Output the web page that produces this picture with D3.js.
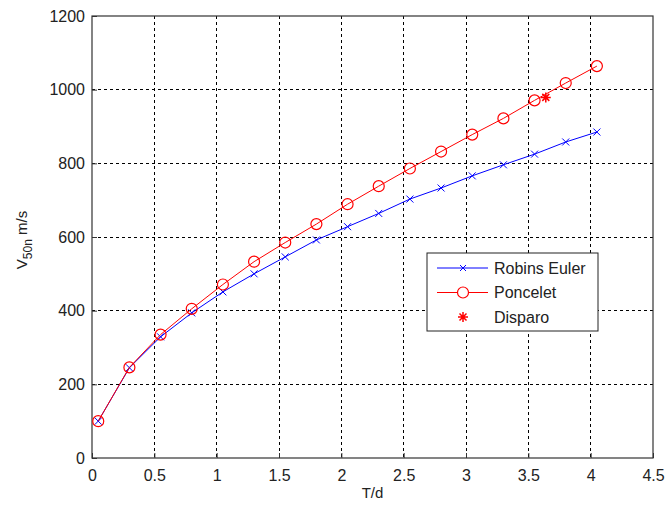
<!DOCTYPE html>
<html>
<head>
<meta charset="utf-8">
<script src="https://cdn.jsdelivr.net/npm/d3@7"></script>
<style>
  body { margin: 0; background: #fff; }
  svg text { font-family: "Liberation Sans", Arial, sans-serif; fill: #222; }
</style>
</head>
<body>
<svg id="chart" width="665" height="505"></svg>
<script>
// data
const tdValues = [0.05, 0.3, 0.55, 0.8, 1.05, 1.3, 1.55, 1.8, 2.05, 2.3, 2.55, 2.8, 3.05, 3.3, 3.55, 3.8, 4.05];
const robinsEuler = [100, 245, 329, 394, 451, 500, 546, 592, 628, 664, 703, 733, 766, 796, 825, 858, 885];
const poncelet = [100, 246, 335, 405, 471, 533, 585, 635, 689, 738, 786, 832, 878, 922, 971, 1018, 1064];
const disparo = [{ x: 3.64, y: 979 }];
const xTicks = [0, 0.5, 1, 1.5, 2, 2.5, 3, 3.5, 4, 4.5];
const yTicks = [0, 200, 400, 600, 800, 1000, 1200];
const legendLabels = ["Robins Euler", "Poncelet", "Disparo"];

const margin = { top: 16, right: 12, bottom: 47, left: 92 };
const width = 665 - margin.left - margin.right;
const height = 505 - margin.top - margin.bottom;

const svg = d3.select("#chart");
const g = svg.append("g").attr("transform", `translate(${margin.left},${margin.top})`);

const x = d3.scaleLinear().domain([0, 4.5]).range([0, width]);
const y = d3.scaleLinear().domain([0, 1200]).range([height, 0]);

// grid
g.append("g").selectAll("line").data(xTicks.slice(1, -1)).join("line")
  .attr("x1", d => x(d)).attr("x2", d => x(d))
  .attr("y1", 0).attr("y2", height)
  .attr("stroke", "#000").attr("stroke-dasharray", "3,3").attr("shape-rendering", "crispEdges");
g.append("g").selectAll("line").data(yTicks.slice(1, -1)).join("line")
  .attr("x1", 0).attr("x2", width)
  .attr("y1", d => y(d)).attr("y2", d => y(d))
  .attr("stroke", "#000").attr("stroke-dasharray", "3,3").attr("shape-rendering", "crispEdges");

// axes (ticks inward)
const xAxis = g.append("g").attr("transform", `translate(0,${height})`)
  .call(d3.axisBottom(x).tickValues(xTicks).tickFormat(d3.format("")).tickSizeInner(-5).tickSizeOuter(0).tickPadding(9));
const yAxis = g.append("g")
  .call(d3.axisLeft(y).tickValues(yTicks).tickFormat(d3.format("d")).tickSizeInner(-5).tickSizeOuter(0).tickPadding(7));
[xAxis, yAxis].forEach(a => {
  a.select(".domain").remove();
  a.selectAll("line").attr("stroke", "#333");
  a.selectAll("text").style("font-size", "16px").attr("fill", "#222");
});
xAxis.selectAll("text").attr("dy", "0.9em");
// frame
g.append("rect").attr("width", width).attr("height", height)
  .attr("fill", "none").attr("stroke", "#333").attr("stroke-width", 1.2);

// series
const line = d3.line().x(d => x(d[0])).y(d => y(d[1]));
const blueData = tdValues.map((t, i) => [t, robinsEuler[i]]);
const redData = tdValues.map((t, i) => [t, poncelet[i]]);

function xMark(sel, s) {
  return `M${-s},${-s}L${s},${s}M${-s},${s}L${s},${-s}`;
}
function starMark(s) {
  const d = s * 0.7;
  return `M${-s},0L${s},0M0,${-s}L0,${s}M${-d},${-d}L${d},${d}M${-d},${d}L${d},${-d}`;
}

g.append("path").datum(blueData).attr("d", line)
  .attr("fill", "none").attr("stroke", "#0000ff").attr("stroke-width", 1);
g.append("g").selectAll("path").data(blueData).join("path")
  .attr("transform", d => `translate(${x(d[0])},${y(d[1])})`)
  .attr("d", xMark(null, 3.5)).attr("stroke", "#0000ff").attr("fill", "none");

g.append("path").datum(redData).attr("d", line)
  .attr("fill", "none").attr("stroke", "#ff0000").attr("stroke-width", 1);
g.append("g").selectAll("circle").data(redData).join("circle")
  .attr("cx", d => x(d[0])).attr("cy", d => y(d[1])).attr("r", 5.5)
  .attr("fill", "none").attr("stroke", "#ff0000").attr("stroke-width", 1.2);

g.append("g").selectAll("path").data(disparo).join("path")
  .attr("transform", d => `translate(${x(d.x)},${y(d.y)})`)
  .attr("d", starMark(5)).attr("stroke", "#ff0000").attr("stroke-width", 1.5).attr("fill", "none");

// legend
const legend = svg.append("g").attr("transform", "translate(427,253)");
legend.append("rect").attr("width", 171).attr("height", 78)
  .attr("fill", "#fff").attr("stroke", "#222").attr("stroke-width", 1);
legendLabels.forEach((label, i) => {
  const ly = 15 + i * 24.5;
  const row = legend.append("g").attr("transform", `translate(0,${ly})`);
  if (i < 2) {
    row.append("line").attr("x1", 10).attr("x2", 61).attr("y1", 0).attr("y2", 0)
      .attr("stroke", i === 0 ? "#0000ff" : "#ff0000");
  }
  if (i === 0) {
    row.append("path").attr("transform", "translate(36,0)").attr("d", xMark(null, 3))
      .attr("stroke", "#0000ff").attr("fill", "none");
  } else if (i === 1) {
    row.append("circle").attr("cx", 36).attr("cy", 0).attr("r", 5.5)
      .attr("fill", "#fff").attr("stroke", "#ff0000").attr("stroke-width", 1.2);
  } else {
    row.append("path").attr("transform", "translate(36,0)").attr("d", starMark(5))
      .attr("stroke", "#ff0000").attr("stroke-width", 1.5).attr("fill", "none");
  }
  row.append("text").attr("x", 67).attr("y", 0).attr("dy", "0.35em")
    .style("font-size", "16px").text(label);
});

// axis labels
svg.append("text").attr("x", margin.left + x(2.25)).attr("y", 498)
  .attr("text-anchor", "middle").style("font-size", "15px").text("T/d");

const yl = svg.append("text")
  .attr("transform", `translate(27,${margin.top + height / 2 + 3}) rotate(-90)`)
  .attr("text-anchor", "middle").style("font-size", "15px");
yl.append("tspan").text("V");
yl.append("tspan").attr("dy", 5).style("font-size", "12px").text("50n");
yl.append("tspan").attr("dy", -5).text(" m/s");
</script>
</body>
</html>
